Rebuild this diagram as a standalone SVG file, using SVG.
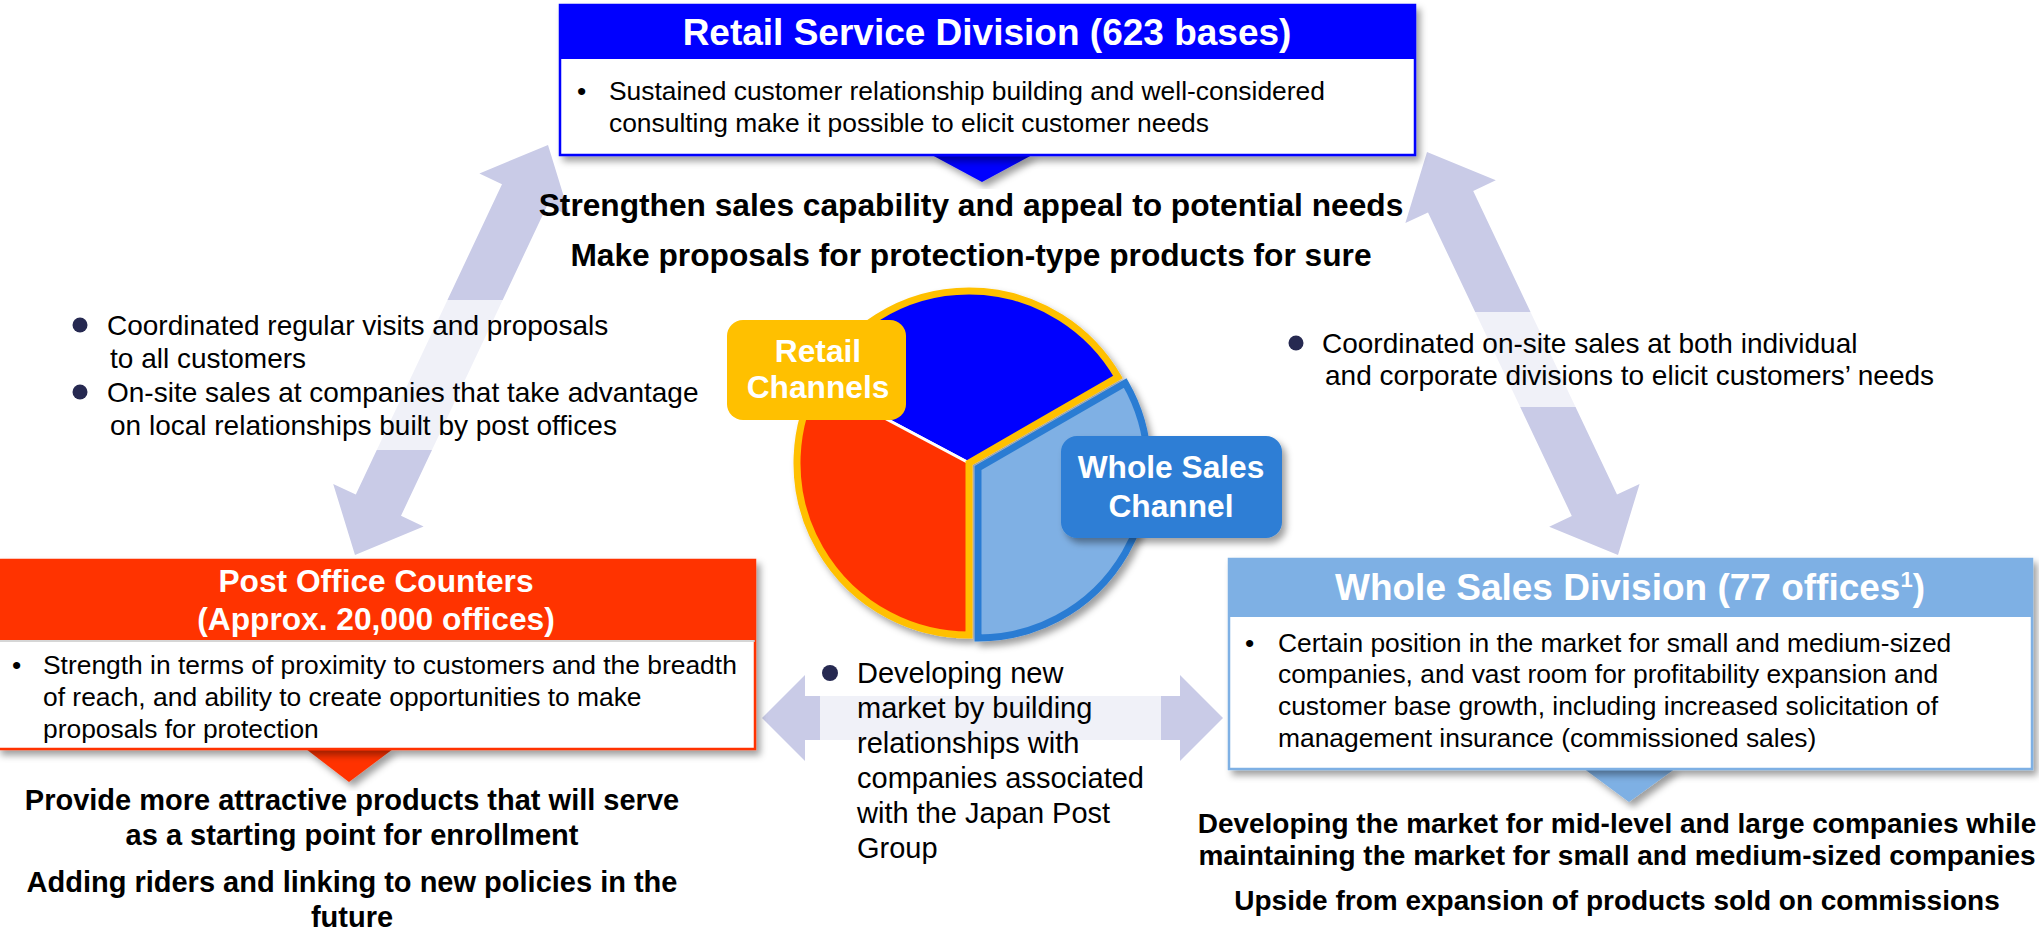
<svg xmlns="http://www.w3.org/2000/svg" width="2039" height="936" viewBox="0 0 2039 936">
<defs>
<style>
text { font-family: "Liberation Sans", Arial, Helvetica, sans-serif; }
.ttl { font-weight: bold; fill: #fff; font-size: 37px; text-anchor: middle; }
.lbl { font-weight: bold; fill: #fff; font-size: 31.7px; text-anchor: middle; }
.body { font-size: 26.4px; fill: #000; }
.side { font-size: 28px; fill: #000; }
.mid { font-size: 29px; fill: #000; }
.bt { font-weight: bold; fill: #000; text-anchor: middle; }
.arrow { fill: #C9CBE7; }
.band { fill: #fff; fill-opacity: 0.72; }
.dot { fill: #262951; }
</style>
<filter id="sh" x="-10%" y="-10%" width="125%" height="135%">
<feDropShadow dx="4" dy="5" stdDeviation="3.5" flood-color="#000" flood-opacity="0.38"/>
</filter>
</defs>
<rect width="2039" height="936" fill="#fff"/>

<g id="connectors">
<polygon class="arrow" points="548,145 479.4,173.5 502,184.2 355.8,494.6 333.2,483.9 355,555 423.6,526.5 401,515.8 547.2,205.4 569.8,216.1"/>
<polygon class="arrow" points="1427,152 1405.4,223.1 1428,212.4 1571.8,516 1549.2,526.7 1618,555 1639.6,483.9 1617,494.6 1473.2,191 1495.8,180.3"/>
<polygon class="arrow" points="762,718 805,675 805,696 1180,696 1180,675 1223,718 1180,761 1180,740 805,740 805,761"/>
</g>

<g id="left-link-text">
<rect class="band" x="60" y="300" width="660" height="150"/>
<circle class="dot" cx="80" cy="325" r="7.5"/>
<text class="side" x="107" y="335">Coordinated regular visits and proposals</text>
<text class="side" x="110" y="368">to all customers</text>
<circle class="dot" cx="80" cy="392" r="7.5"/>
<text class="side" x="107" y="402">On-site sales at companies that take advantage</text>
<text class="side" x="110" y="435">on local relationships built by post offices</text>
</g>

<g id="right-link-text">
<rect class="band" x="1285" y="312" width="520" height="95"/>
<circle class="dot" cx="1296" cy="343" r="7.5"/>
<text class="side" x="1322" y="353">Coordinated on-site sales at both individual</text>
<text class="side" x="1325" y="385">and corporate divisions to elicit customers’ needs</text>
</g>

<g id="bottom-link-text">
<rect class="band" x="820" y="650" width="341" height="225"/>
<circle class="dot" cx="830" cy="673" r="8"/>
<text class="mid" x="857" y="683">Developing new</text>
<text class="mid" x="857" y="718">market by building</text>
<text class="mid" x="857" y="753">relationships with</text>
<text class="mid" x="857" y="788">companies associated</text>
<text class="mid" x="857" y="823">with the Japan Post</text>
<text class="mid" x="857" y="858">Group</text>
</g>

<g id="retail-service-division">
<polygon points="930,154 1034,154 982,182" fill="#0000FF" filter="url(#sh)"/>
<rect x="560" y="5" width="855" height="150" fill="#fff" stroke="#0000FF" stroke-width="2.5" filter="url(#sh)"/>
<rect x="560" y="5" width="855" height="54" fill="#0000FF"/>
<text class="ttl" x="987" y="45">Retail Service Division (623 bases)</text>
<text class="body" x="577" y="100">•</text>
<text class="body" x="609" y="100">Sustained customer relationship building and well-considered</text>
<text class="body" x="609" y="132">consulting make it possible to elicit customer needs</text>
<text class="bt" x="971" y="216" font-size="31.7">Strengthen sales capability and appeal to potential needs</text>
<text class="bt" x="971" y="266" font-size="31.7">Make proposals for protection-type products for sure</text>
</g>

<g id="pie">
<g filter="url(#sh)">
<path d="M978,468 L1125.2,383 A170,170 0 0 1 978,638 Z" fill="#7FB0E4" stroke="#2B7CD3" stroke-width="7" stroke-linejoin="miter"/>
<path d="M969,463 L1117.96,377 A172,172 0 0 0 817.14,382.25 Z" fill="#0000FF" stroke="#fff" stroke-width="3"/>
<path d="M969,463 L817.14,382.25 A172,172 0 0 0 969,635 Z" fill="#FF3300" stroke="#fff" stroke-width="3"/>
<path d="M1117.96,377 A172,172 0 1 0 969,635 L969,463 Z" fill="none" stroke="#FFC000" stroke-width="7"/>
</g>
</g>

<g id="retail-channels">
<rect x="727" y="320" width="179" height="100" rx="16" fill="#FFC000"/>
<text class="lbl" x="818" y="362">Retail</text>
<text class="lbl" x="818" y="398">Channels</text>
</g>

<g id="whole-sales-channel">
<rect x="1061" y="436" width="221" height="102" rx="16" fill="#2D7ED5" filter="url(#sh)"/>
<text class="lbl" x="1171" y="478">Whole Sales</text>
<text class="lbl" x="1171" y="517">Channel</text>
</g>

<g id="post-office-counters">
<polygon points="306,749 393,749 349,782" fill="#FF3300" filter="url(#sh)"/>
<rect x="-2" y="560" width="757" height="189" fill="#fff" stroke="#FF3300" stroke-width="2.5" filter="url(#sh)"/>
<rect x="-2" y="560" width="757" height="80" fill="#FF3300"/>
<line x1="0" y1="641" x2="755" y2="641" stroke="#c9c9c9" stroke-width="1.5"/>
<text class="lbl" x="376" y="592">Post Office Counters</text>
<text class="lbl" x="376" y="630">(Approx. 20,000 offices)</text>
<text class="body" x="12" y="674">•</text>
<text class="body" x="43" y="674">Strength in terms of proximity to customers and the breadth</text>
<text class="body" x="43" y="706">of reach, and ability to create opportunities to make</text>
<text class="body" x="43" y="738">proposals for protection</text>
<text class="bt" x="352" y="810" font-size="29">Provide more attractive products that will serve</text>
<text class="bt" x="352" y="845" font-size="29">as a starting point for enrollment</text>
<text class="bt" x="352" y="892" font-size="29">Adding riders and linking to new policies in the</text>
<text class="bt" x="352" y="927" font-size="29">future</text>
</g>

<g id="whole-sales-division">
<polygon points="1583,768 1676,768 1629,802" fill="#7EB0E4" filter="url(#sh)"/>
<rect x="1229" y="559" width="803" height="210" fill="#fff" stroke="#7EB0E4" stroke-width="2.5" filter="url(#sh)"/>
<rect x="1229" y="559" width="803" height="58" fill="#7EB0E4"/>
<text class="ttl" x="1630" y="600">Whole Sales Division (77 offices<tspan font-size="22" dy="-13">1</tspan><tspan dy="13">)</tspan></text>
<text class="body" x="1245" y="652">•</text>
<text class="body" x="1278" y="652">Certain position in the market for small and medium-sized</text>
<text class="body" x="1278" y="683">companies, and vast room for profitability expansion and</text>
<text class="body" x="1278" y="715">customer base growth, including increased solicitation of</text>
<text class="body" x="1278" y="747">management insurance (commissioned sales)</text>
<text class="bt" x="1617" y="833" font-size="28">Developing the market for mid-level and large companies while</text>
<text class="bt" x="1617" y="865" font-size="28">maintaining the market for small and medium-sized companies</text>
<text class="bt" x="1617" y="910" font-size="28">Upside from expansion of products sold on commissions</text>
</g>
</svg>
